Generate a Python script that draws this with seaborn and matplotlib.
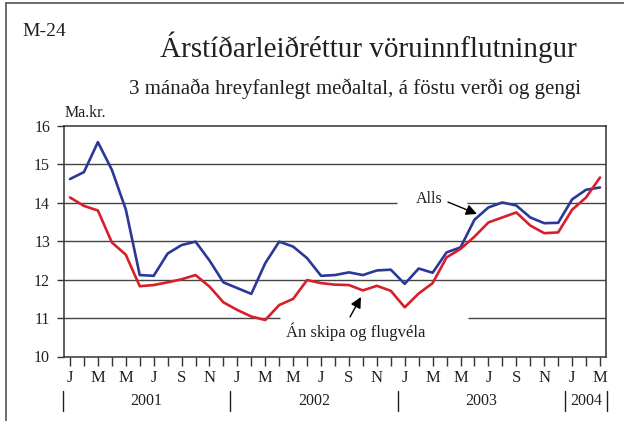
import numpy as np
import pandas as pd
import seaborn as sns
import matplotlib.pyplot as plt
from matplotlib import transforms
from matplotlib.lines import Line2D

# Jan 2001 - Mar 2004, ma.kr., 3 mánaða hreyfanlegt meðaltal
alls = [14.62, 14.80, 15.58, 14.86, 13.83, 12.12, 12.10, 12.68, 12.90, 12.99, 12.50, 11.93,
        11.78, 11.63, 12.43, 12.99, 12.86, 12.56, 12.10, 12.12, 12.19, 12.12, 12.24, 12.26,
        11.89, 12.29, 12.18, 12.71, 12.84, 13.56, 13.88, 14.01, 13.93, 13.62, 13.47, 13.48,
        14.09, 14.34, 14.40]
an_skipa = [14.14, 13.92, 13.80, 12.97, 12.65, 11.83, 11.86, 11.93, 12.01, 12.12, 11.82, 11.41,
            11.21, 11.04, 10.95, 11.34, 11.50, 11.99, 11.91, 11.87, 11.86, 11.72, 11.84, 11.71,
            11.28, 11.64, 11.91, 12.58, 12.80, 13.12, 13.49, 13.62, 13.75, 13.41, 13.21, 13.23,
            13.82, 14.14, 14.66]
month_letters = ["J", "F", "M", "A", "M", "J", "J", "A", "S", "O", "N", "D"]
years = ["2001", "2002", "2003", "2004"]
y_ticks = [10, 11, 12, 13, 14, 15, 16]

n = len(alls)
df = pd.DataFrame({"t": np.arange(n), "alls": alls, "an": an_skipa})

sns.set_style("white")
plt.rcParams["font.family"] = ["Liberation Serif", "DejaVu Serif"]
txt = "#231f20"
blue = "#2b3896"
red = "#d71f2b"

fig = plt.figure(figsize=(6.24, 4.21), dpi=100)
ax = fig.add_axes([64 / 624, 1 - 356.5 / 421, 542 / 624, 230.5 / 421])

# gridlines, broken where the labels sit
x0, x1 = -0.43, n - 1 + 0.43
grid = dict(color="#444444", lw=1.0, zorder=1)
for y in [12, 13, 15]:
    ax.hlines(y, x0, x1, **grid)
ax.hlines(14, x0, 23.44, **grid)
ax.hlines(14, 28.46, x1, **grid)
ax.hlines(11, x0, 15.05, **grid)
ax.hlines(11, 28.53, x1, **grid)

sns.lineplot(data=df, x="t", y="alls", color=blue, lw=1.9, ax=ax, zorder=3)
sns.lineplot(data=df, x="t", y="an", color=red, lw=1.9, ax=ax, zorder=3)

ax.set_xlim(x0, x1)
ax.set_ylim(10, 16)
ax.set_xlabel("")
ax.set_ylabel("")
ax.set_yticks(y_ticks)
ax.set_yticklabels([str(v) for v in y_ticks])
ax.set_xticks(np.arange(n))
ax.set_xticklabels([month_letters[i % 12] if i % 2 == 0 else "" for i in range(n)])
ax.tick_params(axis="x", direction="out", length=6.5, width=1, color="#333333",
               pad=3.5, labelsize=12, labelcolor=txt, bottom=True)
ax.tick_params(axis="y", direction="out", length=5, width=1, color="#333333",
               pad=5, labelsize=11.5, labelcolor=txt, left=True)
for s in ax.spines.values():
    s.set_color("#333333")
    s.set_linewidth(1.1)

# years below the months
tr = transforms.blended_transform_factory(ax.transData, ax.transAxes)
for i, yr in enumerate(years):
    start = i * 12 - 0.5
    end = min(start + 12, n - 0.5)
    ax.plot([start, start], [-0.1497, -0.2364], color=txt, lw=1, transform=tr, clip_on=False)
    ax.text((start + end) / 2, -0.193, yr, transform=tr, ha="center", va="center",
            fontsize=11.5, color=txt)
ax.plot([n - 0.5, n - 0.5], [-0.1497, -0.2364], color=txt, lw=1, transform=tr, clip_on=False)

ax.text(0.0387, 1.056, "Ma.kr.", transform=ax.transAxes, ha="center", va="center",
        fontsize=11.5, color=txt)

# labels on the lines
ax.text(25.78, 14.10, "Alls", ha="center", va="center", fontsize=11.5, color=txt)
ax.annotate("", xy=(29.18, 13.71), xytext=(27.10, 14.02),
            arrowprops=dict(arrowstyle="-|>", color="black", lw=1, mutation_scale=16,
                            shrinkA=0, shrinkB=0))
ax.text(20.5, 10.64, "Án skipa og flugvéla", ha="center", va="center", fontsize=12, color=txt)
ax.annotate("", xy=(20.86, 11.55), xytext=(20.08, 11.03),
            arrowprops=dict(arrowstyle="-|>", color="black", lw=1, mutation_scale=16,
                            shrinkA=0, shrinkB=0))

fig.text(368 / 624, 1 - 47 / 421, "Árstíðarleiðréttur vöruinnflutningur", ha="center",
         va="center", fontsize=21, color=txt)
fig.text(355 / 624, 1 - 89 / 421, "3 mánaða hreyfanlegt meðaltal, á föstu verði og gengi",
         ha="center", va="center", fontsize=15, color=txt)
fig.text(22 / 624, 1 - 32 / 421, "M-24", ha="left", va="center", fontsize=14, color=txt)

# frame of the chart box (top and left)
fig.add_artist(Line2D([5.5 / 624, 1], [1 - 3 / 421, 1 - 3 / 421], color="#555555", lw=1.2,
                      transform=fig.transFigure))
fig.add_artist(Line2D([5.5 / 624, 5.5 / 624], [0, 1 - 3 / 421], color="#555555", lw=1.2,
                      transform=fig.transFigure))

fig.savefig("out.png", dpi=100)
